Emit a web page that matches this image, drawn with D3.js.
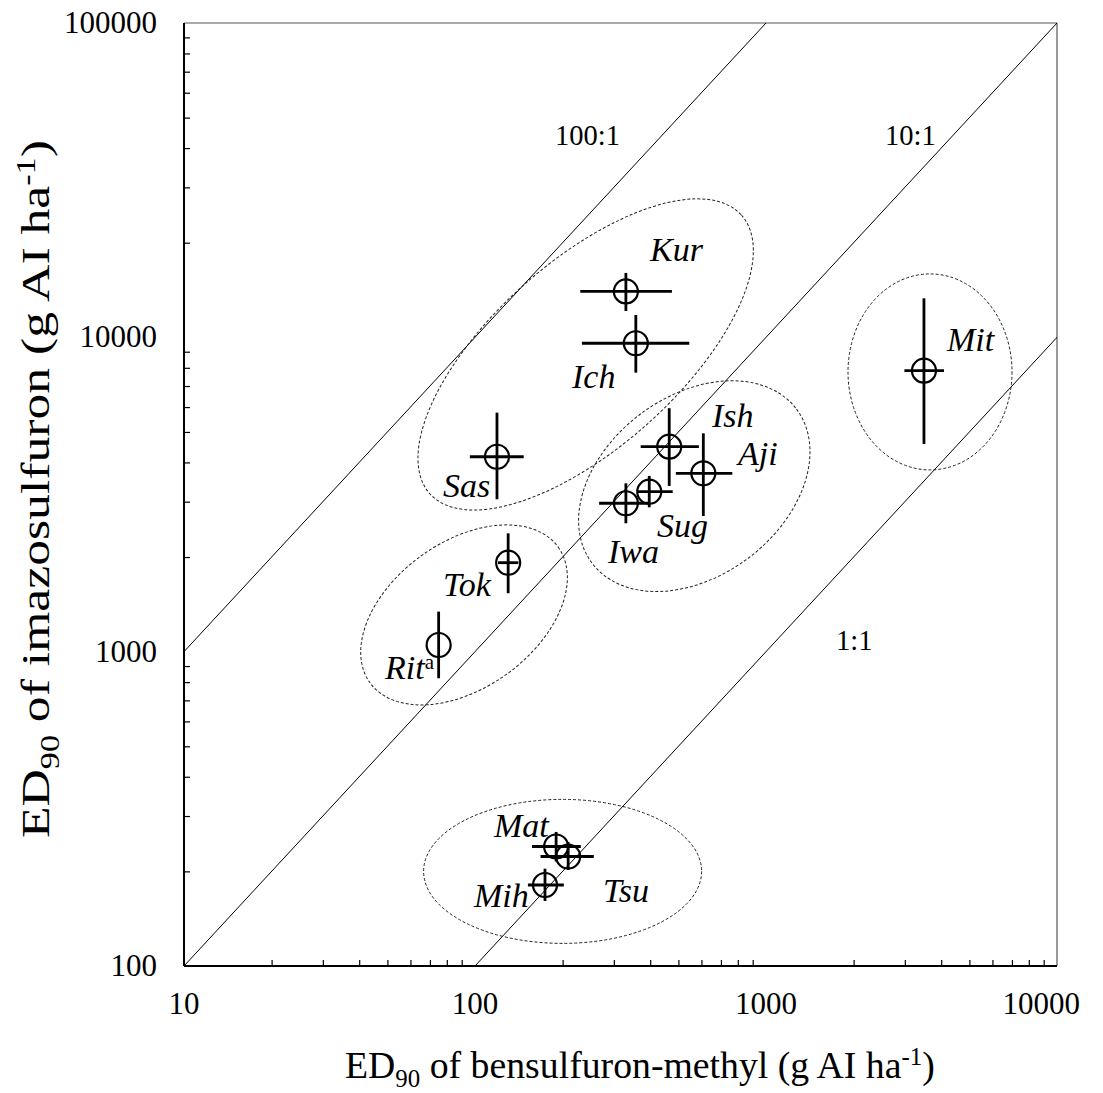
<!DOCTYPE html>
<html>
<head>
<meta charset="utf-8">
<script src="https://cdn.jsdelivr.net/npm/d3@7/dist/d3.min.js"></script>
<style>
  html, body { margin: 0; padding: 0; background: #fff; }
  svg { display: block; }
  text { font-family: "Liberation Serif", "Times New Roman", "DejaVu Serif", serif; fill: #000; }
</style>
</head>
<body>
<svg id="chart" width="1103" height="1093" font-family="Liberation Serif, Times New Roman, serif"></svg>
<script>
// ---- data ----
const populations = ["Kur","Ich","Sas","Ish","Aji","Sug","Iwa","Tok","Rit","Mit","Mat","Tsu","Mih"];
const bensulfuronED90 = [330, 357, 119, 465, 609, 397, 330, 130, 75, 3490, 190, 209, 174];
const bensulfuronLow  = [230, 233, 96, 371, 490, 360, 267, 120, 75, 2990, 157, 168, 152];
const bensulfuronHigh = [475, 545, 147, 588, 766, 478, 400, 141, 75, 4090, 231, 256, 202];
const imazosulfuronED90 = [14000, 9575, 4170, 4490, 3694, 3228, 2966, 1919, 1050, 7834, 240, 223, 181];
const imazosulfuronLow  = [12130, 7720, 3053, 3367, 2702, 2879, 2561, 1534, 823, 4579, 215, 202, 161];
const imazosulfuronHigh = [16030, 11780, 5760, 5950, 4951, 3624, 3433, 2379, 1341, 13310, 267, 248, 204];

const xTickValues = [10, 100, 1000, 10000];
const yTickValues = [100, 1000, 10000, 100000];
const ratioLabels = ["100:1", "10:1", "1:1"];
const ratioFactors = [100, 10, 1];
// grouping ellipses (centres in data units)
const groupCentreX = [240, 567, 91.7, 3661, 200];
const groupCentreY = [8822, 3362, 1309, 7762, 200];

// ---- layout ----
const W = 1103, H = 1093;
const M = {left: 184, right: 1057, top: 23, bottom: 966};
const svg = d3.select("#chart");
const x = d3.scaleLog().domain([10, 10000]).range([M.left, M.right]);
const y = d3.scaleLog().domain([100, 100000]).range([M.bottom, M.top]);

svg.append("defs").append("clipPath").attr("id","plotclip")
  .append("rect").attr("x", M.left).attr("y", M.top)
  .attr("width", M.right - M.left).attr("height", M.bottom - M.top);

// frame (top/right)
svg.append("line").attr("x1", M.left).attr("x2", M.right).attr("y1", M.top).attr("y2", M.top)
  .attr("stroke", "#555").attr("stroke-width", 1.2);
svg.append("line").attr("x1", M.right).attr("x2", M.right).attr("y1", M.top).attr("y2", M.bottom)
  .attr("stroke", "#555").attr("stroke-width", 1.2);

// minor ticks
const minorX = [];
[10, 100, 1000].forEach(d => { for (let k = 2; k <= 9; k++) minorX.push(d * k); });
const minorY = [];
[100, 1000, 10000].forEach(d => { for (let k = 2; k <= 9; k++) minorY.push(d * k); });

const gx = svg.append("g").attr("transform", `translate(0,${M.bottom})`)
  .call(d3.axisBottom(x).tickValues(minorX).tickSize(-6).tickFormat(""));
gx.select(".domain").attr("stroke", "#000").attr("stroke-width", 2).attr("d", `M${M.left},0H${M.right}`);
gx.selectAll(".tick line").attr("stroke", "#000").attr("stroke-width", 1.2);

const gy = svg.append("g").attr("transform", `translate(${M.left},0)`)
  .call(d3.axisLeft(y).tickValues(minorY).tickSize(-6).tickFormat(""));
gy.select(".domain").attr("stroke", "#000").attr("stroke-width", 2).attr("d", `M0,${M.top}V${M.bottom}`);
gy.selectAll(".tick line").attr("stroke", "#000").attr("stroke-width", 1.2);

// tick labels
const xl = svg.append("g").selectAll("text").data(xTickValues).join("text")
  .attr("x", d => x(d)).attr("y", 1014).attr("text-anchor", "middle")
  .attr("font-size", 31).text(d => d);
// keep the last label inside the picture like the original
xl.each(function() {
  const bb = this.getBBox();
  const over = bb.x + bb.width - 1080;
  if (over > 0) d3.select(this).attr("x", +d3.select(this).attr("x") - over);
});
svg.append("g").selectAll("text").data(yTickValues).join("text")
  .attr("x", 157).attr("y", d => y(d) + 10).attr("text-anchor", "end")
  .attr("font-size", 31).text(d => d);

// ratio lines
const plot = svg.append("g").attr("clip-path", "url(#plotclip)");
plot.selectAll("line.ratio").data(ratioFactors).join("line")
  .attr("class", "ratio")
  .attr("x1", d => x(10)).attr("y1", d => y(10 * d))
  .attr("x2", d => x(100000)).attr("y2", d => y(100000 * d))
  .attr("stroke", "#000").attr("stroke-width", 1);

// ratio labels
const ratioPos = [[555, 145], [885, 145], [836, 650]];
svg.append("g").selectAll("text").data(ratioLabels).join("text")
  .attr("x", (d, i) => ratioPos[i][0]).attr("y", (d, i) => ratioPos[i][1])
  .attr("font-size", 28.5).text(d => d);

// group ellipses (pixel semi-axes and rotation are styling)
const ellStyle = [
  {a: 209, b: 93, rot: -41.8},
  {a: 128, b: 90, rot: -37},
  {a: 116, b: 73, rot: -35.8},
  {a: 82, b: 98, rot: 0},
  {a: 139, b: 72, rot: 0}
];
svg.append("g").selectAll("ellipse").data(groupCentreX).join("ellipse")
  .attr("cx", 0).attr("cy", 0)
  .attr("rx", (d, i) => ellStyle[i].a).attr("ry", (d, i) => ellStyle[i].b)
  .attr("transform", (d, i) => `translate(${x(d)},${y(groupCentreY[i])}) rotate(${ellStyle[i].rot})`)
  .attr("fill", "none").attr("stroke", "#222").attr("stroke-width", 1)
  .attr("stroke-dasharray", "3,2");

// points
const pts = populations.map((p, i) => ({
  name: p, x: bensulfuronED90[i], xl: bensulfuronLow[i], xh: bensulfuronHigh[i],
  y: imazosulfuronED90[i], yl: imazosulfuronLow[i], yh: imazosulfuronHigh[i]
}));
const gp = svg.append("g");
gp.selectAll("line.xe").data(pts.filter(d => d.xl !== d.xh)).join("line")
  .attr("x1", d => x(d.xl)).attr("x2", d => x(d.xh))
  .attr("y1", d => y(d.y)).attr("y2", d => y(d.y))
  .attr("stroke", "#000").attr("stroke-width", 2.8);
gp.selectAll("line.ye").data(pts).join("line")
  .attr("x1", d => x(d.x)).attr("x2", d => x(d.x))
  .attr("y1", d => y(d.yl)).attr("y2", d => y(d.yh))
  .attr("stroke", "#000").attr("stroke-width", 2.8);
gp.selectAll("circle").data(pts).join("circle")
  .attr("cx", d => x(d.x)).attr("cy", d => y(d.y)).attr("r", 12)
  .attr("fill", "none").attr("stroke", "#000").attr("stroke-width", 2.2);

// point labels
const labelPos = {
  Kur: [650, 261], Ich: [572, 388], Sas: [443, 497], Ish: [712, 427], Aji: [738, 465],
  Sug: [657, 537], Iwa: [608, 563], Tok: [443, 596], Rit: [385, 679], Mit: [947, 351],
  Mat: [494, 837], Tsu: [603, 902], Mih: [474, 907]
};
const lbl = svg.append("g").selectAll("text").data(populations).join("text")
  .attr("x", d => labelPos[d][0]).attr("y", d => labelPos[d][1])
  .attr("font-size", 34).attr("font-style", "italic");
lbl.append("tspan").text(d => d);
lbl.filter(d => d === "Rit").append("tspan").attr("font-style", "normal")
  .attr("font-size", 21).attr("dy", -10).text("a");

// axis titles
function title(g, main, fs) {
  const t = g.append("text").attr("x", 0).attr("y", 0).attr("font-size", fs);
  t.append("tspan").text("ED");
  t.append("tspan").attr("font-size", fs * 0.66).attr("dy", fs * 0.25).text("90");
  t.append("tspan").attr("dy", -fs * 0.25).text(main);
  t.append("tspan").attr("font-size", fs * 0.66).attr("dy", -fs * 0.36).text("-1");
  t.append("tspan").attr("dy", fs * 0.36).text(")");
  return t;
}
// x title: spans 345..935, baseline 1078
const gxt = svg.append("g");
const xt = title(gxt, " of bensulfuron-methyl (g AI ha", 37);
{
  const bb = xt.node().getBBox();
  const s = 590 / bb.width;
  gxt.attr("transform", `translate(345,1078) scale(${s},1) translate(${-bb.x},0)`);
}
// y title: spans 838..140 (bottom to top), baseline x 49
const gyt = svg.append("g");
const yt = title(gyt, " of imazosulfuron (g AI ha", 40);
{
  const bb = yt.node().getBBox();
  const s = 698 / bb.width;
  gyt.attr("transform", `translate(49,838) rotate(-90) scale(${s},1) translate(${-bb.x},0)`);
}
</script>
</body>
</html>
